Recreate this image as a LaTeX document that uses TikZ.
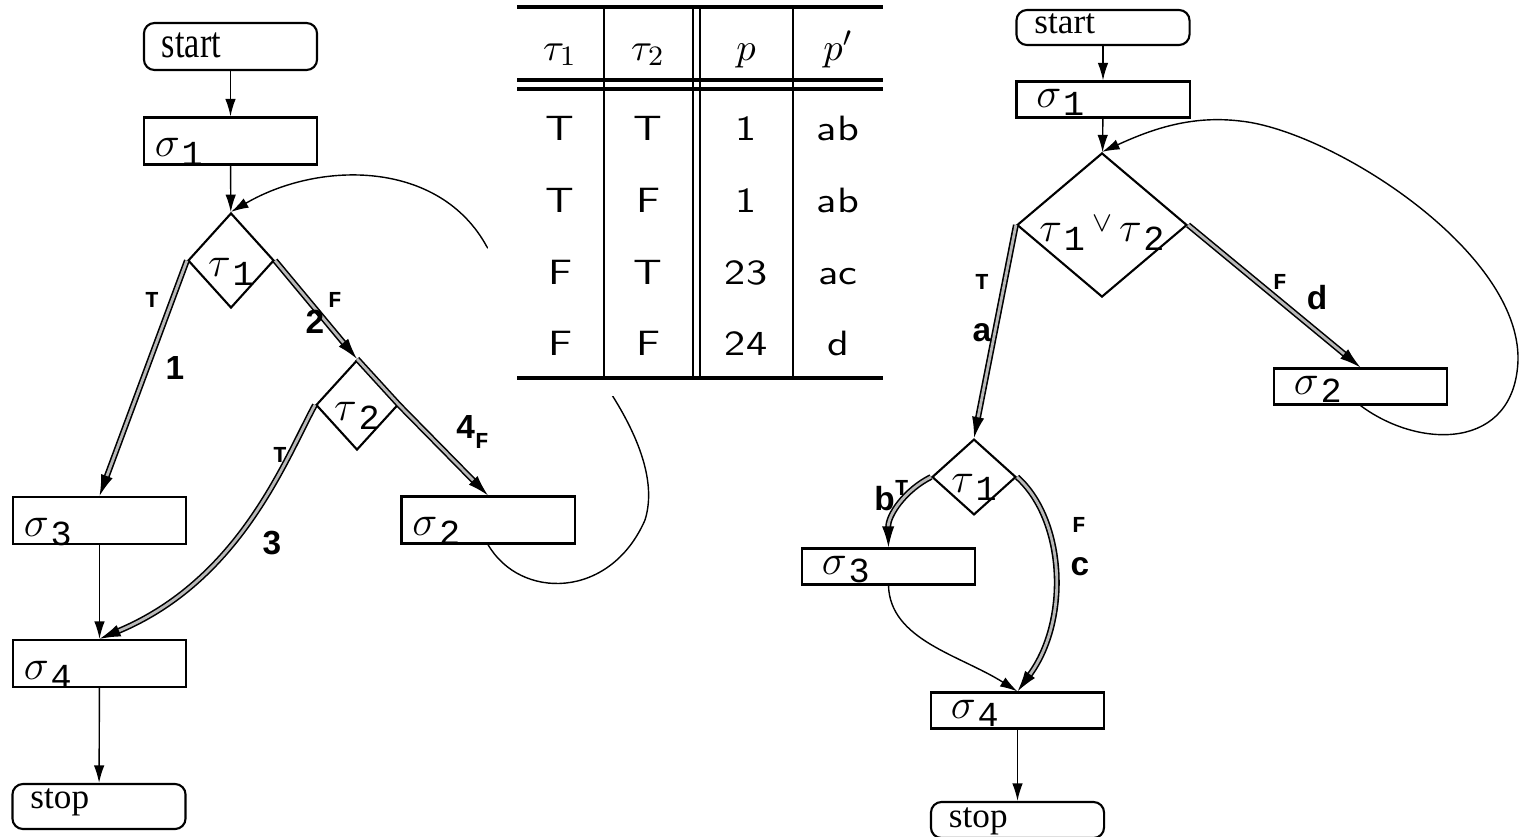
\documentclass[tikz,border=0pt]{standalone}
\usepackage{fontspec}
\usepackage{graphicx}
\newfontfamily\timesc[FakeStretch=0.78]{Liberation Serif}
\newfontfamily\timesr{Liberation Serif}
\newfontfamily\cour{Liberation Mono}
\newfontfamily\helv{Liberation Sans}
\usetikzlibrary{arrows.meta}
\usetikzlibrary{shapes.geometric}
\newcommand{\idx}[2]{$#1$\kern0.5pt\raisebox{-2.5pt}{\cour\fontsize{10}{10}\selectfont #2}}
\newcommand{\wide}[1]{\scalebox{1.2}[1]{#1}}

\begin{document}
\begin{tikzpicture}[x=0.01cm, y=-0.01cm,
		term/.style={draw, semithick, rounded corners=3pt, align=left, inner ysep=0pt, text depth=0pt,
			text width=1.37cm, inner xsep=0.18cm, font=\timesr\fontsize{10}{12}\selectfont},
		stmt/.style={draw, semithick, align=left, inner ysep=0pt, text depth=0pt, font=\fontsize{12}{14}\selectfont},
		leftbox/.style={minimum height=0.47cm, text height=9pt, text width=1.51cm, inner xsep=0.11cm},
		rightbox/.style={minimum height=0.36cm, text height=4.3pt, text width=1.33cm, inner xsep=0.2cm},
		decision/.style={draw, semithick, diamond, inner sep=0pt, text depth=0pt, font=\fontsize{12}{14}\selectfont},
		flow/.style={thin, -{Latex[length=5pt,width=3pt]}},
		taken/.style={-{Latex[length=6pt,width=3.5pt]}, draw=black, double=gray!55, line width=0.45pt, double distance=0.8pt},
		backedge/.style={thin, -{Latex[length=5pt,width=3pt]}},
		num/.style={font=\helv\bfseries\fontsize{9.5}{10}\selectfont},
		tf/.style={font=\cour\bfseries\fontsize{6.5}{7}\selectfont},
		cell/.style={anchor=base, font=\sffamily\fontsize{10}{12}\selectfont},
		head/.style={anchor=base, font=\fontsize{10.95}{13}\selectfont}]
			\useasboundingbox (0,0) rectangle (1521,836);
			\node[term, minimum height=0.47cm, text height=6pt, font=\timesc\fontsize{12.5}{13}\selectfont] (startL) at (230.5,46.5) {start};
			\node[stmt, leftbox] (s1L) at (230.5,141) {\idx{\sigma}{1}};
			\node[decision, minimum width=0.86cm, minimum height=0.95cm, text height=9pt] (t1L) at (231,260.5) {\idx{\tau}{1}};
			\node[decision, minimum width=0.82cm, minimum height=0.9cm, text height=9pt] (t2L) at (357,405) {\idx{\tau}{2}};
			\node[stmt, leftbox] (s3L) at (99.5,520.5) {\idx{\sigma}{3}};
			\node[stmt, leftbox] (s2L) at (488,520) {\idx{\sigma}{2}};
			\node[stmt, leftbox] (s4L) at (99.5,663.5) {\idx{\sigma}{4}};
			\node[term, minimum height=0.45cm, text height=1pt] (stopL) at (99,806.5) {stop};
			\draw[flow] (startL) -- (s1L);
			\draw[flow] (s1L) -- (t1L);
			\draw[taken] (t1L.west) -- (s3L.north);
			\draw[taken] (t1L.east) -- (t2L.north);
			\draw[taken] (t2L.north) -- (t2L.east) -- (s2L.north);
			\draw[taken] (t2L.west) .. controls (285,460) and (240,580) .. (s4L.north);
			\draw[flow] (s3L) -- (s4L);
			\draw[flow] (s4L) -- (stopL);
			\draw[backedge] (s2L.south) .. controls (520,600) and (610,600) .. (645,520)
			              .. controls (670,440) and (560,320) .. (487,247)
			              .. controls (440,160) and (320,160) .. (t1L.north);
			\node[tf] (tL1) at (152,300) {T};
			\node[num] (n1) at (175,368) {1};
			\node[tf] (fL1) at (335,300) {F};
			\node[num] (n2) at (315,322) {2};
			\node[num, anchor=base west] (n4) at (444,438) {4\raisebox{-3pt}{\cour\fontsize{6.5}{7}\selectfont F}};
			\node[tf] (tL2) at (280,455) {T};
			\node[num] (n3) at (272,543) {3};
			\fill[white] (488,0) rectangle (888,396);
			\draw[line width=0.9pt] (517,7) -- (883,7) (517,80) -- (883,80) (517,89) -- (883,89) (517,378) -- (883,378);
			\draw[line width=0.6pt] (604,7) -- (604,378) (693,7) -- (693,378) (700,7) -- (700,378) (793,7) -- (793,378);
			\node[head] (h1) at (560,60) {$\tau_1$};
			\node[head] (h2) at (648,60) {$\tau_2$};
			\node[head] (h3) at (746,60) {$p$};
			\node[head] (h4) at (838,60) {$p'$};
			\node[cell] (a1) at (560,140) {\wide{T}}; \node[cell] (a2) at (648,140) {\wide{T}}; \node[cell] (a3) at (746,140) {\wide{1}}; \node[cell] (a4) at (838,140) {\wide{ab}};
			\node[cell] (b1) at (560,212) {\wide{T}}; \node[cell] (b2) at (648,212) {\wide{F}}; \node[cell] (b3) at (746,212) {\wide{1}}; \node[cell] (b4) at (838,212) {\wide{ab}};
			\node[cell] (c1) at (560,284) {\wide{F}}; \node[cell] (c2) at (648,284) {\wide{T}}; \node[cell] (c3) at (746,284) {\wide{23}}; \node[cell] (c4) at (838,284) {\wide{ac}};
			\node[cell] (d1) at (560,355) {\wide{F}}; \node[cell] (d2) at (648,355) {\wide{F}}; \node[cell] (d3) at (746,355) {\wide{24}}; \node[cell] (d4) at (838,355) {\wide{d}};
			\node[term, minimum height=0.35cm, text height=3.2pt] (startR) at (1103,27.5) {start};
			\node[stmt, rightbox] (s1R) at (1103,99.5) {\idx{\sigma}{1}};
			\node[decision, minimum width=1.7cm, minimum height=1.44cm, aspect=1.18, text height=9.6pt] (dR) at (1102,225)
				{\idx{\tau}{1}\,\raisebox{3pt}{$\scriptstyle\vee$}\,\idx{\tau}{2}};
			\node[stmt, rightbox] (s2R) at (1360.5,386.5) {\idx{\sigma}{2}};
			\node[decision, minimum width=0.84cm, minimum height=0.7cm, text height=8.6pt] (t1R) at (974,477) {\idx{\tau}{1}};
			\node[stmt, rightbox] (s3R) at (888.5,566.5) {\idx{\sigma}{3}};
			\node[stmt, rightbox] (s4R) at (1017.5,710.5) {\idx{\sigma}{4}};
			\node[term, minimum height=0.36cm, text height=4pt] (stopR) at (1017.5,820) {stop};
			\draw[flow] (startR) -- (s1R);
			\draw[flow] (s1R) -- (dR);
			\draw[taken] (dR.west) -- (t1R.north);
			\draw[taken] (dR.east) -- (s2R.north);
			\draw[taken] (t1R.west) .. controls (905,490) and (888,515) .. (s3R.north);
			\draw[taken] (t1R.east) .. controls (1065,520) and (1070,620) .. (s4R.north);
			\draw[flow] (s3R.south) .. controls (890,640) and (960,655) .. (s4R.north);
			\draw[flow] (s4R) -- (stopR);
			\draw[backedge] (s2R.south) .. controls (1420,450) and (1515,450) .. (1518,360)
			              .. controls (1520,250) and (1330,130) .. (1240,121)
			              .. controls (1190,115) and (1150,130) .. (dR.north);
			\node[tf] (tR1) at (982,282) {T};
			\node[num] (na) at (982,333) {a};
			\node[tf] (fR1) at (1280,282) {F};
			\node[num] (nd) at (1317,298) {d};
			\node[num, anchor=base west] (nb) at (862,510) {b\raisebox{4pt}{\cour\fontsize{6.5}{7}\selectfont T}};
			\node[tf] (fR2) at (1079,525) {F};
			\node[num] (nc) at (1080,567) {c};
		\end{tikzpicture}
\end{document}
